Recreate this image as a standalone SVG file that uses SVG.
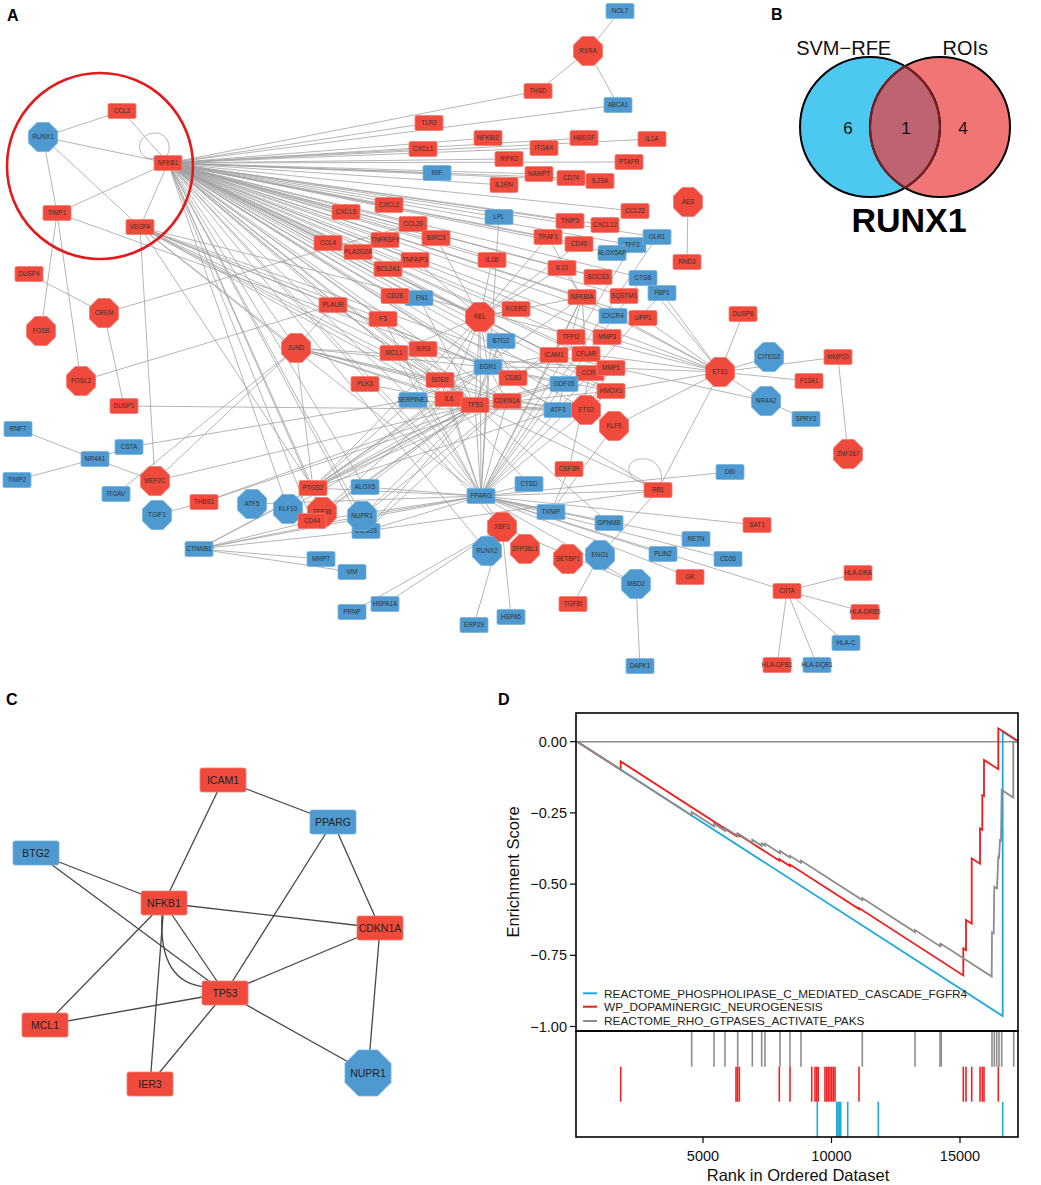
<svg xmlns="http://www.w3.org/2000/svg" xmlns:xlink="http://www.w3.org/1999/xlink" width="1041" height="1185" viewBox="0 0 1041 1185">
<style>
.e line,.e path{stroke:#a2a2a2;stroke-width:.8;fill:none}
.R{fill:#EF4A3B;stroke:#F47D71;stroke-width:.8}
.B{fill:#4E99CF;stroke:#76B3DE;stroke-width:.8}
.t{font-family:"Liberation Sans",Arial,sans-serif;font-size:6.3px;fill:#333;text-anchor:middle}
.ct{font-family:"Liberation Sans",Arial,sans-serif;font-size:10.5px;fill:#222;text-anchor:middle}
.ce line,.ce path{stroke:#474747;stroke-width:1.3;fill:none}
.lbl{font-family:"Liberation Sans",Arial,sans-serif;font-weight:bold;font-size:16px;fill:#000}
.ax{font-family:"Liberation Sans",Arial,sans-serif;font-size:14.5px;fill:#111}
.ttl{font-family:"Liberation Sans",Arial,sans-serif;font-size:16.5px;fill:#111;text-anchor:middle}
.lg{font-family:"Liberation Sans",Arial,sans-serif;font-size:11.8px;fill:#222}
.gt line{stroke:#8c8c8c;stroke-width:1.6}
.rt line{stroke:#EE2222;stroke-width:1.6}
.bt line{stroke:#1FA8E0;stroke-width:1.6}
</style>
<defs>
<rect id="bx" x="-14" y="-7.5" width="28" height="15" rx="1.5"/>
<polygon id="oc" points="-6,-14.5 6,-14.5 14.5,-6 14.5,6 6,14.5 -6,14.5 -14.5,6 -14.5,-6"/>
<rect id="cbx" x="-23" y="-12" width="46" height="24" rx="2"/>
<polygon id="coc" points="-9.5,-23 9.5,-23 23,-9.5 23,9.5 9.5,23 -9.5,23 -23,9.5 -23,-9.5"/>
</defs>
<rect width="1041" height="1185" fill="#fff"/>

<!-- Panel labels -->
<text class="lbl" x="7" y="21">A</text>
<text class="lbl" x="771" y="20">B</text>
<text class="lbl" x="6" y="705">C</text>
<text class="lbl" x="498" y="705">D</text>

<!-- Panel A connectors -->
<g id="edges-A" class="e">
<path d="M160,157 C135,166 133,134 154,133 C168,132 173,148 166,157"/>
<path d="M655,483 C628,487 620,462 640,459 C655,457 664,470 661,483"/>
<line x1="168" y1="163" x2="122" y2="111"/><line x1="168" y1="163" x2="43" y2="137"/><line x1="168" y1="163" x2="57" y2="213"/><line x1="168" y1="163" x2="140" y2="227"/>
<line x1="168" y1="163" x2="538" y2="91"/><line x1="168" y1="163" x2="618" y2="105"/><line x1="168" y1="163" x2="429" y2="123"/><line x1="168" y1="163" x2="423" y2="149"/>
<line x1="168" y1="163" x2="488" y2="138"/><line x1="168" y1="163" x2="544" y2="148"/><line x1="168" y1="163" x2="584" y2="138"/><line x1="168" y1="163" x2="652" y2="139"/>
<line x1="168" y1="163" x2="509" y2="159"/><line x1="168" y1="163" x2="629" y2="162"/><line x1="168" y1="163" x2="437" y2="173"/><line x1="168" y1="163" x2="539" y2="174"/>
<line x1="168" y1="163" x2="571" y2="178"/><line x1="168" y1="163" x2="600" y2="181"/><line x1="168" y1="163" x2="504" y2="185"/><line x1="168" y1="163" x2="635" y2="211"/>
<line x1="168" y1="163" x2="346" y2="212"/><line x1="168" y1="163" x2="389" y2="205"/><line x1="168" y1="163" x2="499" y2="217"/><line x1="168" y1="163" x2="413" y2="224"/>
<line x1="168" y1="163" x2="570" y2="221"/><line x1="168" y1="163" x2="605" y2="225"/><line x1="168" y1="163" x2="548" y2="237"/><line x1="168" y1="163" x2="579" y2="244"/>
<line x1="168" y1="163" x2="632" y2="245"/><line x1="168" y1="163" x2="657" y2="237"/><line x1="168" y1="163" x2="612" y2="253"/><line x1="168" y1="163" x2="328" y2="243"/>
<line x1="168" y1="163" x2="385" y2="240"/><line x1="168" y1="163" x2="436" y2="238"/><line x1="168" y1="163" x2="358" y2="252"/><line x1="168" y1="163" x2="415" y2="260"/>
<line x1="168" y1="163" x2="388" y2="269"/><line x1="168" y1="163" x2="492" y2="260"/><line x1="168" y1="163" x2="562" y2="268"/><line x1="168" y1="163" x2="598" y2="277"/>
<line x1="168" y1="163" x2="643" y2="278"/><line x1="168" y1="163" x2="582" y2="297"/><line x1="168" y1="163" x2="624" y2="296"/><line x1="168" y1="163" x2="395" y2="296"/>
<line x1="168" y1="163" x2="419" y2="298"/><line x1="168" y1="163" x2="480" y2="317"/><line x1="168" y1="163" x2="516" y2="309"/><line x1="168" y1="163" x2="643" y2="318"/>
<line x1="168" y1="163" x2="613" y2="316"/><line x1="168" y1="163" x2="383" y2="319"/><line x1="168" y1="163" x2="333" y2="305"/><line x1="168" y1="163" x2="501" y2="341"/>
<line x1="168" y1="163" x2="571" y2="337"/><line x1="168" y1="163" x2="607" y2="337"/><line x1="168" y1="163" x2="394" y2="353"/><line x1="168" y1="163" x2="423" y2="349"/>
<line x1="168" y1="163" x2="554" y2="355"/><line x1="168" y1="163" x2="586" y2="354"/><line x1="168" y1="163" x2="488" y2="367"/><line x1="168" y1="163" x2="590" y2="373"/>
<line x1="168" y1="163" x2="611" y2="368"/><line x1="168" y1="163" x2="440" y2="380"/><line x1="168" y1="163" x2="513" y2="378"/><line x1="168" y1="163" x2="611" y2="391"/>
<line x1="168" y1="163" x2="449" y2="399"/><line x1="168" y1="163" x2="475" y2="405"/><line x1="168" y1="163" x2="507" y2="401"/><line x1="168" y1="163" x2="413" y2="400"/>
<line x1="168" y1="163" x2="296" y2="348"/><line x1="168" y1="163" x2="313" y2="488"/><line x1="168" y1="163" x2="312" y2="521"/><line x1="168" y1="163" x2="322" y2="512"/>
<line x1="168" y1="163" x2="288" y2="509"/><line x1="168" y1="163" x2="362" y2="516"/><line x1="168" y1="163" x2="366" y2="531"/><line x1="168" y1="163" x2="365" y2="487"/>
<line x1="168" y1="163" x2="481" y2="496"/><line x1="168" y1="163" x2="502" y2="527"/><line x1="168" y1="163" x2="487" y2="551"/><line x1="168" y1="163" x2="720" y2="372"/>
<line x1="168" y1="163" x2="586" y2="410"/><line x1="168" y1="163" x2="558" y2="410"/><line x1="168" y1="163" x2="564" y2="384"/>
<line x1="43" y1="137" x2="122" y2="111"/><line x1="43" y1="137" x2="57" y2="213"/><line x1="43" y1="137" x2="140" y2="227"/>
<line x1="57" y1="213" x2="41" y2="331"/><line x1="57" y1="213" x2="81" y2="381"/><line x1="57" y1="213" x2="488" y2="367"/>
<line x1="140" y1="227" x2="155" y2="481"/><line x1="140" y1="227" x2="333" y2="305"/><line x1="140" y1="227" x2="296" y2="348"/><line x1="140" y1="227" x2="383" y2="319"/>
<line x1="140" y1="227" x2="440" y2="380"/><line x1="140" y1="227" x2="449" y2="399"/><line x1="140" y1="227" x2="475" y2="405"/><line x1="140" y1="227" x2="481" y2="496"/>
<line x1="140" y1="227" x2="488" y2="367"/><line x1="140" y1="227" x2="720" y2="372"/><line x1="140" y1="227" x2="611" y2="391"/><line x1="140" y1="227" x2="507" y2="401"/>
<line x1="140" y1="227" x2="313" y2="488"/>
<line x1="588" y1="51" x2="620" y2="11"/><line x1="588" y1="51" x2="538" y2="91"/><line x1="588" y1="51" x2="618" y2="105"/>
<line x1="688" y1="202" x2="687" y2="262"/>
<line x1="29" y1="274" x2="104" y2="313"/><line x1="104" y1="313" x2="124" y2="406"/><line x1="104" y1="313" x2="413" y2="224"/>
<line x1="81" y1="381" x2="333" y2="305"/><line x1="124" y1="406" x2="558" y2="410"/>
<line x1="95" y1="459" x2="18" y2="429"/><line x1="95" y1="459" x2="17" y2="480"/><line x1="95" y1="459" x2="129" y2="447"/><line x1="95" y1="459" x2="155" y2="481"/>
<line x1="129" y1="447" x2="413" y2="400"/><line x1="116" y1="494" x2="296" y2="348"/><line x1="155" y1="481" x2="296" y2="348"/><line x1="155" y1="481" x2="475" y2="405"/>
<line x1="157" y1="515" x2="204" y2="502"/><line x1="204" y1="502" x2="475" y2="405"/><line x1="204" y1="502" x2="507" y2="401"/>
<line x1="296" y1="348" x2="333" y2="305"/><line x1="296" y1="348" x2="313" y2="488"/><line x1="296" y1="348" x2="449" y2="399"/><line x1="296" y1="348" x2="475" y2="405"/>
<line x1="296" y1="348" x2="558" y2="410"/><line x1="296" y1="348" x2="488" y2="367"/><line x1="296" y1="348" x2="440" y2="380"/><line x1="296" y1="348" x2="507" y2="401"/>
<line x1="296" y1="348" x2="611" y2="368"/><line x1="333" y1="305" x2="488" y2="367"/><line x1="333" y1="305" x2="475" y2="405"/>
<line x1="199" y1="549" x2="321" y2="559"/><line x1="199" y1="549" x2="352" y2="572"/><line x1="199" y1="549" x2="366" y2="531"/><line x1="199" y1="549" x2="362" y2="516"/>
<line x1="199" y1="549" x2="481" y2="496"/><line x1="199" y1="549" x2="313" y2="488"/><line x1="199" y1="549" x2="312" y2="521"/><line x1="199" y1="549" x2="475" y2="405"/>
<line x1="252" y1="504" x2="481" y2="496"/><line x1="288" y1="509" x2="475" y2="405"/><line x1="288" y1="509" x2="413" y2="400"/>
<line x1="313" y1="488" x2="481" y2="496"/><line x1="313" y1="488" x2="475" y2="405"/><line x1="313" y1="488" x2="449" y2="399"/><line x1="313" y1="488" x2="488" y2="367"/>
<line x1="313" y1="488" x2="480" y2="317"/><line x1="313" y1="488" x2="558" y2="410"/><line x1="313" y1="488" x2="507" y2="401"/><line x1="313" y1="488" x2="582" y2="297"/>
<line x1="313" y1="488" x2="554" y2="355"/>
<line x1="312" y1="521" x2="475" y2="405"/><line x1="312" y1="521" x2="481" y2="496"/><line x1="322" y1="512" x2="449" y2="399"/><line x1="322" y1="512" x2="475" y2="405"/>
<line x1="365" y1="487" x2="481" y2="496"/><line x1="365" y1="487" x2="475" y2="405"/><line x1="362" y1="516" x2="475" y2="405"/><line x1="362" y1="516" x2="507" y2="401"/>
<line x1="362" y1="516" x2="481" y2="496"/><line x1="366" y1="531" x2="481" y2="496"/><line x1="366" y1="531" x2="658" y2="490"/><line x1="366" y1="531" x2="507" y2="401"/>
<line x1="366" y1="531" x2="475" y2="405"/>
<line x1="481" y1="496" x2="529" y2="484"/><line x1="481" y1="496" x2="551" y2="512"/><line x1="481" y1="496" x2="609" y2="523"/><line x1="481" y1="496" x2="663" y2="554"/>
<line x1="481" y1="496" x2="728" y2="559"/><line x1="481" y1="496" x2="696" y2="539"/><line x1="481" y1="496" x2="757" y2="525"/><line x1="481" y1="496" x2="730" y2="472"/>
<line x1="481" y1="496" x2="787" y2="591"/><line x1="481" y1="496" x2="690" y2="577"/><line x1="481" y1="496" x2="502" y2="527"/><line x1="481" y1="496" x2="658" y2="490"/>
<line x1="481" y1="496" x2="636" y2="584"/><line x1="481" y1="496" x2="475" y2="405"/><line x1="481" y1="496" x2="449" y2="399"/><line x1="481" y1="496" x2="440" y2="380"/>
<line x1="481" y1="496" x2="488" y2="367"/><line x1="481" y1="496" x2="480" y2="317"/><line x1="481" y1="496" x2="507" y2="401"/><line x1="481" y1="496" x2="554" y2="355"/>
<line x1="481" y1="496" x2="662" y2="293"/><line x1="481" y1="496" x2="499" y2="217"/><line x1="481" y1="496" x2="643" y2="278"/><line x1="481" y1="496" x2="657" y2="237"/>
<line x1="481" y1="496" x2="611" y2="368"/><line x1="481" y1="496" x2="611" y2="391"/><line x1="481" y1="496" x2="413" y2="400"/><line x1="481" y1="496" x2="394" y2="353"/>
<line x1="481" y1="496" x2="383" y2="319"/><line x1="481" y1="496" x2="582" y2="297"/><line x1="481" y1="496" x2="632" y2="245"/>
<line x1="658" y1="490" x2="600" y2="555"/><line x1="658" y1="490" x2="475" y2="405"/><line x1="658" y1="490" x2="507" y2="401"/><line x1="658" y1="490" x2="720" y2="372"/>
<line x1="600" y1="555" x2="573" y2="604"/><line x1="502" y1="527" x2="636" y2="584"/><line x1="502" y1="527" x2="474" y2="625"/><line x1="502" y1="527" x2="511" y2="617"/>
<line x1="502" y1="527" x2="385" y2="604"/><line x1="502" y1="527" x2="352" y2="612"/><line x1="636" y1="584" x2="640" y2="666"/>
<line x1="609" y1="523" x2="475" y2="405"/><line x1="529" y1="484" x2="449" y2="399"/><line x1="551" y1="512" x2="614" y2="426"/><line x1="569" y1="469" x2="590" y2="373"/>
<line x1="569" y1="469" x2="551" y2="512"/>
<line x1="787" y1="591" x2="858" y2="573"/><line x1="787" y1="591" x2="865" y2="612"/><line x1="787" y1="591" x2="846" y2="643"/><line x1="787" y1="591" x2="777" y2="665"/>
<line x1="787" y1="591" x2="817" y2="665"/>
<line x1="720" y1="372" x2="743" y2="314"/><line x1="720" y1="372" x2="769" y2="357"/><line x1="720" y1="372" x2="838" y2="357"/><line x1="720" y1="372" x2="809" y2="381"/>
<line x1="720" y1="372" x2="766" y2="401"/><line x1="720" y1="372" x2="662" y2="293"/><line x1="720" y1="372" x2="643" y2="318"/><line x1="720" y1="372" x2="613" y2="316"/>
<line x1="720" y1="372" x2="607" y2="337"/><line x1="720" y1="372" x2="586" y2="354"/><line x1="720" y1="372" x2="611" y2="368"/><line x1="720" y1="372" x2="611" y2="391"/>
<line x1="720" y1="372" x2="614" y2="426"/><line x1="720" y1="372" x2="582" y2="297"/><line x1="720" y1="372" x2="643" y2="278"/>
<line x1="766" y1="401" x2="806" y2="419"/><line x1="554" y1="355" x2="766" y2="401"/><line x1="838" y1="357" x2="848" y2="454"/>
<line x1="480" y1="317" x2="436" y2="238"/><line x1="480" y1="317" x2="415" y2="260"/><line x1="480" y1="317" x2="582" y2="297"/><line x1="480" y1="317" x2="388" y2="269"/>
<line x1="480" y1="317" x2="562" y2="268"/><line x1="480" y1="317" x2="492" y2="260"/><line x1="480" y1="317" x2="488" y2="367"/><line x1="480" y1="317" x2="449" y2="399"/>
<line x1="480" y1="317" x2="475" y2="405"/><line x1="480" y1="317" x2="440" y2="380"/><line x1="480" y1="317" x2="554" y2="355"/><line x1="480" y1="317" x2="513" y2="378"/>
<line x1="480" y1="317" x2="516" y2="309"/><line x1="480" y1="317" x2="394" y2="353"/><line x1="480" y1="317" x2="548" y2="237"/><line x1="480" y1="317" x2="579" y2="244"/>
<line x1="488" y1="367" x2="475" y2="405"/><line x1="488" y1="367" x2="449" y2="399"/><line x1="488" y1="367" x2="440" y2="380"/><line x1="488" y1="367" x2="507" y2="401"/>
<line x1="488" y1="367" x2="558" y2="410"/><line x1="488" y1="367" x2="501" y2="341"/><line x1="488" y1="367" x2="564" y2="384"/><line x1="488" y1="367" x2="554" y2="355"/>
<line x1="488" y1="367" x2="413" y2="400"/><line x1="488" y1="367" x2="513" y2="378"/><line x1="488" y1="367" x2="611" y2="391"/><line x1="488" y1="367" x2="611" y2="368"/>
<line x1="475" y1="405" x2="507" y2="401"/><line x1="475" y1="405" x2="501" y2="341"/><line x1="475" y1="405" x2="440" y2="380"/><line x1="475" y1="405" x2="449" y2="399"/>
<line x1="475" y1="405" x2="394" y2="353"/><line x1="475" y1="405" x2="423" y2="349"/><line x1="475" y1="405" x2="564" y2="384"/><line x1="475" y1="405" x2="558" y2="410"/>
<line x1="475" y1="405" x2="413" y2="400"/><line x1="475" y1="405" x2="571" y2="337"/><line x1="475" y1="405" x2="611" y2="368"/><line x1="475" y1="405" x2="586" y2="410"/>
<line x1="475" y1="405" x2="611" y2="391"/><line x1="475" y1="405" x2="365" y2="384"/><line x1="475" y1="405" x2="383" y2="319"/><line x1="475" y1="405" x2="419" y2="298"/>
<line x1="582" y1="297" x2="548" y2="237"/><line x1="582" y1="297" x2="554" y2="355"/><line x1="582" y1="297" x2="571" y2="337"/><line x1="582" y1="297" x2="586" y2="354"/>
<line x1="582" y1="297" x2="562" y2="268"/><line x1="562" y1="268" x2="598" y2="277"/>
<line x1="558" y1="410" x2="564" y2="384"/><line x1="507" y1="401" x2="564" y2="384"/><line x1="507" y1="401" x2="586" y2="410"/><line x1="586" y1="410" x2="611" y2="368"/>
<line x1="586" y1="410" x2="611" y2="391"/>
</g>

<!-- red highlight circle -->
<circle cx="100" cy="166" r="93" fill="none" stroke="#E31A1C" stroke-width="2.6"/>

<!-- Panel A nodes -->
<g id="n-NFKB1"><use href="#bx" class="R" x="168" y="163"/><text class="t" x="168" y="165.2">NFKB1</text></g>
<g id="n-CCL3"><use href="#bx" class="R" x="122" y="111"/><text class="t" x="122" y="113.2">CCL3</text></g>
<g id="n-RUNX1"><use href="#oc" class="B" x="43" y="137"/><text class="t" x="43" y="139.2">RUNX1</text></g>
<g id="n-TIMP1"><use href="#bx" class="R" x="57" y="213"/><text class="t" x="57" y="215.2">TIMP1</text></g>
<g id="n-VEGFA"><use href="#bx" class="R" x="140" y="227"/><text class="t" x="140" y="229.2">VEGFA</text></g>
<g id="n-NOL7"><use href="#bx" class="B" x="620" y="11"/><text class="t" x="620" y="13.2">NOL7</text></g>
<g id="n-RXRA"><use href="#oc" class="R" x="588" y="51"/><text class="t" x="588" y="53.2">RXRA</text></g>
<g id="n-THSD"><use href="#bx" class="R" x="538" y="91"/><text class="t" x="538" y="93.2">THSD</text></g>
<g id="n-ABCA1"><use href="#bx" class="B" x="618" y="105"/><text class="t" x="618" y="107.2">ABCA1</text></g>
<g id="n-TLR2"><use href="#bx" class="R" x="429" y="123"/><text class="t" x="429" y="125.2">TLR2</text></g>
<g id="n-NFKBIZ"><use href="#bx" class="R" x="488" y="138"/><text class="t" x="488" y="140.2">NFKBIZ</text></g>
<g id="n-HBEGF"><use href="#bx" class="R" x="584" y="138"/><text class="t" x="584" y="140.2">HBEGF</text></g>
<g id="n-IL1A"><use href="#bx" class="R" x="652" y="139"/><text class="t" x="652" y="141.2">IL1A</text></g>
<g id="n-CXCL1"><use href="#bx" class="R" x="423" y="149"/><text class="t" x="423" y="151.2">CXCL1</text></g>
<g id="n-ITGAX"><use href="#bx" class="R" x="544" y="148"/><text class="t" x="544" y="150.2">ITGAX</text></g>
<g id="n-RIPK2"><use href="#bx" class="R" x="509" y="159"/><text class="t" x="509" y="161.2">RIPK2</text></g>
<g id="n-PTAFR"><use href="#bx" class="R" x="629" y="162"/><text class="t" x="629" y="164.2">PTAFR</text></g>
<g id="n-MIF"><use href="#bx" class="B" x="437" y="173"/><text class="t" x="437" y="175.2">MIF</text></g>
<g id="n-NAMPT"><use href="#bx" class="R" x="539" y="174"/><text class="t" x="539" y="176.2">NAMPT</text></g>
<g id="n-CD74"><use href="#bx" class="R" x="571" y="178"/><text class="t" x="571" y="180.2">CD74</text></g>
<g id="n-IL23A"><use href="#bx" class="R" x="600" y="181"/><text class="t" x="600" y="183.2">IL23A</text></g>
<g id="n-IL1RN"><use href="#bx" class="R" x="504" y="185"/><text class="t" x="504" y="187.2">IL1RN</text></g>
<g id="n-CCL22"><use href="#bx" class="R" x="635" y="211"/><text class="t" x="635" y="213.2">CCL22</text></g>
<g id="n-AES"><use href="#oc" class="R" x="688" y="202"/><text class="t" x="688" y="204.2">AES</text></g>
<g id="n-CXCL5"><use href="#bx" class="R" x="346" y="212"/><text class="t" x="346" y="214.2">CXCL5</text></g>
<g id="n-CXCL2"><use href="#bx" class="R" x="389" y="205"/><text class="t" x="389" y="207.2">CXCL2</text></g>
<g id="n-LPL"><use href="#bx" class="B" x="499" y="217"/><text class="t" x="499" y="219.2">LPL</text></g>
<g id="n-CCL20"><use href="#bx" class="R" x="413" y="224"/><text class="t" x="413" y="226.2">CCL20</text></g>
<g id="n-TNIP3"><use href="#bx" class="R" x="570" y="221"/><text class="t" x="570" y="223.2">TNIP3</text></g>
<g id="n-CXCL12"><use href="#bx" class="R" x="605" y="225"/><text class="t" x="605" y="227.2">CXCL12</text></g>
<g id="n-TRAF1"><use href="#bx" class="R" x="548" y="237"/><text class="t" x="548" y="239.2">TRAF1</text></g>
<g id="n-CD40"><use href="#bx" class="R" x="579" y="244"/><text class="t" x="579" y="246.2">CD40</text></g>
<g id="n-TFF3"><use href="#bx" class="B" x="632" y="245"/><text class="t" x="632" y="247.2">TFF3</text></g>
<g id="n-OLR1"><use href="#bx" class="B" x="657" y="237"/><text class="t" x="657" y="239.2">OLR1</text></g>
<g id="n-ALOX5AP"><use href="#bx" class="B" x="612" y="253"/><text class="t" x="612" y="255.2">ALOX5AP</text></g>
<g id="n-RND3"><use href="#bx" class="R" x="687" y="262"/><text class="t" x="687" y="264.2">RND3</text></g>
<g id="n-CCL4"><use href="#bx" class="R" x="328" y="243"/><text class="t" x="328" y="245.2">CCL4</text></g>
<g id="n-TNFRSF9"><use href="#bx" class="R" x="385" y="240"/><text class="t" x="385" y="242.2">TNFRSF9</text></g>
<g id="n-BIRC3"><use href="#bx" class="R" x="436" y="238"/><text class="t" x="436" y="240.2">BIRC3</text></g>
<g id="n-PLA2G2A"><use href="#bx" class="R" x="358" y="252"/><text class="t" x="358" y="254.2">PLA2G2A</text></g>
<g id="n-TNFAIP3"><use href="#bx" class="R" x="415" y="260"/><text class="t" x="415" y="262.2">TNFAIP3</text></g>
<g id="n-BCL2A1"><use href="#bx" class="R" x="388" y="269"/><text class="t" x="388" y="271.2">BCL2A1</text></g>
<g id="n-IL1B"><use href="#bx" class="R" x="492" y="260"/><text class="t" x="492" y="262.2">IL1B</text></g>
<g id="n-IL10"><use href="#bx" class="R" x="562" y="268"/><text class="t" x="562" y="270.2">IL10</text></g>
<g id="n-SOCS3"><use href="#bx" class="R" x="598" y="277"/><text class="t" x="598" y="279.2">SOCS3</text></g>
<g id="n-CTSB"><use href="#bx" class="B" x="643" y="278"/><text class="t" x="643" y="280.2">CTSB</text></g>
<g id="n-FBP1"><use href="#bx" class="B" x="662" y="293"/><text class="t" x="662" y="295.2">FBP1</text></g>
<g id="n-SQSTM1"><use href="#bx" class="R" x="624" y="296"/><text class="t" x="624" y="298.2">SQSTM1</text></g>
<g id="n-NFKBIA"><use href="#bx" class="R" x="582" y="297"/><text class="t" x="582" y="299.2">NFKBIA</text></g>
<g id="n-FN1"><use href="#bx" class="B" x="419" y="298"/><text class="t" x="422" y="300.2">FN1</text></g>
<g id="n-CD28"><use href="#bx" class="R" x="395" y="296"/><text class="t" x="395" y="298.2">CD28</text></g>
<g id="n-REL"><use href="#oc" class="R" x="480" y="317"/><text class="t" x="480" y="319.2">REL</text></g>
<g id="n-FCER2"><use href="#bx" class="R" x="516" y="309"/><text class="t" x="516" y="311.2">FCER2</text></g>
<g id="n-CXCR4"><use href="#bx" class="B" x="613" y="316"/><text class="t" x="613" y="318.2">CXCR4</text></g>
<g id="n-UPP1"><use href="#bx" class="R" x="643" y="318"/><text class="t" x="643" y="320.2">UPP1</text></g>
<g id="n-F3"><use href="#bx" class="R" x="383" y="319"/><text class="t" x="383" y="321.2">F3</text></g>
<g id="n-PLAUR"><use href="#bx" class="R" x="333" y="305"/><text class="t" x="333" y="307.2">PLAUR</text></g>
<g id="n-BTG2"><use href="#bx" class="B" x="501" y="341"/><text class="t" x="501" y="343.2">BTG2</text></g>
<g id="n-TFPI2"><use href="#bx" class="R" x="571" y="337"/><text class="t" x="571" y="339.2">TFPI2</text></g>
<g id="n-MMP3"><use href="#bx" class="R" x="607" y="337"/><text class="t" x="607" y="339.2">MMP3</text></g>
<g id="n-MCL1"><use href="#bx" class="R" x="394" y="353"/><text class="t" x="394" y="355.2">MCL1</text></g>
<g id="n-IER3"><use href="#bx" class="R" x="423" y="349"/><text class="t" x="423" y="351.2">IER3</text></g>
<g id="n-ICAM1"><use href="#bx" class="R" x="554" y="355"/><text class="t" x="554" y="357.2">ICAM1</text></g>
<g id="n-CFLAR"><use href="#bx" class="R" x="586" y="354"/><text class="t" x="586" y="356.2">CFLAR</text></g>
<g id="n-EGR1"><use href="#bx" class="B" x="488" y="367"/><text class="t" x="488" y="369.2">EGR1</text></g>
<g id="n-CCR7"><use href="#bx" class="R" x="590" y="373"/><text class="t" x="590" y="375.2">CCR7</text></g>
<g id="n-MMP1"><use href="#bx" class="R" x="611" y="368"/><text class="t" x="611" y="370.2">MMP1</text></g>
<g id="n-PLK3"><use href="#bx" class="R" x="365" y="384"/><text class="t" x="365" y="386.2">PLK3</text></g>
<g id="n-SOD2"><use href="#bx" class="R" x="440" y="380"/><text class="t" x="440" y="382.2">SOD2</text></g>
<g id="n-CD83"><use href="#bx" class="R" x="513" y="378"/><text class="t" x="513" y="380.2">CD83</text></g>
<g id="n-GDF15"><use href="#bx" class="B" x="564" y="384"/><text class="t" x="564" y="386.2">GDF15</text></g>
<g id="n-HMOX1"><use href="#bx" class="R" x="611" y="391"/><text class="t" x="611" y="393.2">HMOX1</text></g>
<g id="n-SERPINE1"><use href="#bx" class="B" x="413" y="400"/><text class="t" x="413" y="402.2">SERPINE1</text></g>
<g id="n-IL6"><use href="#bx" class="R" x="449" y="399"/><text class="t" x="449" y="401.2">IL6</text></g>
<g id="n-TP53"><use href="#bx" class="R" x="475" y="405"/><text class="t" x="475" y="407.2">TP53</text></g>
<g id="n-CDKN1A"><use href="#bx" class="R" x="507" y="401"/><text class="t" x="507" y="403.2">CDKN1A</text></g>
<g id="n-ATF3"><use href="#bx" class="B" x="558" y="410"/><text class="t" x="558" y="412.2">ATF3</text></g>
<g id="n-ETS2"><use href="#oc" class="R" x="586" y="410"/><text class="t" x="586" y="412.2">ETS2</text></g>
<g id="n-KLF6"><use href="#oc" class="R" x="614" y="426"/><text class="t" x="614" y="428.2">KLF6</text></g>
<g id="n-DUSP6"><use href="#bx" class="R" x="743" y="314"/><text class="t" x="743" y="316.2">DUSP6</text></g>
<g id="n-ETS1"><use href="#oc" class="R" x="720" y="372"/><text class="t" x="720" y="374.2">ETS1</text></g>
<g id="n-CITED2"><use href="#oc" class="B" x="769" y="357"/><text class="t" x="769" y="359.2">CITED2</text></g>
<g id="n-MMP10"><use href="#bx" class="R" x="838" y="357"/><text class="t" x="838" y="359.2">MMP10</text></g>
<g id="n-F13A1"><use href="#bx" class="R" x="809" y="381"/><text class="t" x="809" y="383.2">F13A1</text></g>
<g id="n-NR4A2"><use href="#oc" class="B" x="766" y="401"/><text class="t" x="766" y="403.2">NR4A2</text></g>
<g id="n-SPRY2"><use href="#bx" class="B" x="806" y="419"/><text class="t" x="806" y="421.2">SPRY2</text></g>
<g id="n-ZNF267"><use href="#oc" class="R" x="848" y="454"/><text class="t" x="848" y="456.2">ZNF267</text></g>
<g id="n-DUSP4"><use href="#bx" class="R" x="29" y="274"/><text class="t" x="29" y="276.2">DUSP4</text></g>
<g id="n-CREM"><use href="#oc" class="R" x="104" y="313"/><text class="t" x="104" y="315.2">CREM</text></g>
<g id="n-FOSB"><use href="#oc" class="R" x="41" y="331"/><text class="t" x="41" y="333.2">FOSB</text></g>
<g id="n-JUND"><use href="#oc" class="R" x="296" y="348"/><text class="t" x="296" y="350.2">JUND</text></g>
<g id="n-FOSL2"><use href="#oc" class="R" x="81" y="381"/><text class="t" x="81" y="383.2">FOSL2</text></g>
<g id="n-DUSP1"><use href="#bx" class="R" x="124" y="406"/><text class="t" x="124" y="408.2">DUSP1</text></g>
<g id="n-RNF7"><use href="#bx" class="B" x="18" y="429"/><text class="t" x="18" y="431.2">RNF7</text></g>
<g id="n-CSTA"><use href="#bx" class="B" x="129" y="447"/><text class="t" x="129" y="449.2">CSTA</text></g>
<g id="n-NR4A1"><use href="#bx" class="B" x="95" y="459"/><text class="t" x="95" y="461.2">NR4A1</text></g>
<g id="n-TIMP2"><use href="#bx" class="B" x="17" y="480"/><text class="t" x="17" y="482.2">TIMP2</text></g>
<g id="n-MEF2C"><use href="#oc" class="R" x="155" y="481"/><text class="t" x="155" y="483.2">MEF2C</text></g>
<g id="n-ITGAV"><use href="#bx" class="B" x="116" y="494"/><text class="t" x="116" y="496.2">ITGAV</text></g>
<g id="n-TGIF1"><use href="#oc" class="B" x="157" y="515"/><text class="t" x="157" y="517.2">TGIF1</text></g>
<g id="n-THBS1"><use href="#bx" class="R" x="204" y="502"/><text class="t" x="204" y="504.2">THBS1</text></g>
<g id="n-ATF5"><use href="#oc" class="B" x="252" y="504"/><text class="t" x="252" y="506.2">ATF5</text></g>
<g id="n-KLF10"><use href="#oc" class="B" x="288" y="509"/><text class="t" x="288" y="511.2">KLF10</text></g>
<g id="n-PTGS2"><use href="#bx" class="R" x="313" y="488"/><text class="t" x="313" y="490.2">PTGS2</text></g>
<g id="n-ZFP36"><use href="#oc" class="R" x="322" y="512"/><text class="t" x="322" y="514.2">ZFP36</text></g>
<g id="n-CD44"><use href="#bx" class="R" x="312" y="521"/><text class="t" x="312" y="523.2">CD44</text></g>
<g id="n-CTNNB1"><use href="#bx" class="B" x="199" y="549"/><text class="t" x="199" y="551.2">CTNNB1</text></g>
<g id="n-MMP7"><use href="#bx" class="B" x="321" y="559"/><text class="t" x="321" y="561.2">MMP7</text></g>
<g id="n-VIM"><use href="#bx" class="B" x="352" y="572"/><text class="t" x="352" y="574.2">VIM</text></g>
<g id="n-ALOX5"><use href="#bx" class="B" x="365" y="487"/><text class="t" x="365" y="489.2">ALOX5</text></g>
<g id="n-CCND3"><use href="#bx" class="B" x="366" y="531"/><text class="t" x="366" y="533.2">CCND3</text></g>
<g id="n-NUPR1"><use href="#oc" class="B" x="362" y="516"/><text class="t" x="362" y="518.2">NUPR1</text></g>
<g id="n-CSF3R"><use href="#bx" class="R" x="569" y="469"/><text class="t" x="569" y="471.2">CSF3R</text></g>
<g id="n-CTSD"><use href="#bx" class="B" x="529" y="484"/><text class="t" x="529" y="486.2">CTSD</text></g>
<g id="n-RB1"><use href="#bx" class="R" x="658" y="490"/><text class="t" x="658" y="492.2">RB1</text></g>
<g id="n-PPARG"><use href="#bx" class="B" x="481" y="496"/><text class="t" x="481" y="498.2">PPARG</text></g>
<g id="n-TXNIP"><use href="#bx" class="B" x="551" y="512"/><text class="t" x="551" y="514.2">TXNIP</text></g>
<g id="n-GPNMB"><use href="#bx" class="B" x="609" y="523"/><text class="t" x="609" y="525.2">GPNMB</text></g>
<g id="n-XBP1"><use href="#oc" class="R" x="502" y="527"/><text class="t" x="502" y="529.2">XBP1</text></g>
<g id="n-RUNX2"><use href="#oc" class="B" x="487" y="551"/><text class="t" x="487" y="553.2">RUNX2</text></g>
<g id="n-ZFP36L1"><use href="#oc" class="R" x="525" y="549"/><text class="t" x="525" y="551.2">ZFP36L1</text></g>
<g id="n-SETBP1"><use href="#oc" class="R" x="568" y="559"/><text class="t" x="568" y="561.2">SETBP1</text></g>
<g id="n-ENO1"><use href="#oc" class="B" x="600" y="555"/><text class="t" x="600" y="557.2">ENO1</text></g>
<g id="n-PLIN2"><use href="#bx" class="B" x="663" y="554"/><text class="t" x="663" y="556.2">PLIN2</text></g>
<g id="n-MBD2"><use href="#oc" class="B" x="636" y="584"/><text class="t" x="636" y="586.2">MBD2</text></g>
<g id="n-PRNP"><use href="#bx" class="B" x="352" y="612"/><text class="t" x="352" y="614.2">PRNP</text></g>
<g id="n-HSPA1A"><use href="#bx" class="B" x="385" y="604"/><text class="t" x="385" y="606.2">HSPA1A</text></g>
<g id="n-TGFBI"><use href="#bx" class="R" x="573" y="604"/><text class="t" x="573" y="606.2">TGFBI</text></g>
<g id="n-ERP29"><use href="#bx" class="B" x="474" y="625"/><text class="t" x="474" y="627.2">ERP29</text></g>
<g id="n-HSPA5"><use href="#bx" class="B" x="511" y="617"/><text class="t" x="511" y="619.2">HSPA5</text></g>
<g id="n-DAPK1"><use href="#bx" class="B" x="640" y="666"/><text class="t" x="640" y="668.2">DAPK1</text></g>
<g id="n-DBI"><use href="#bx" class="B" x="730" y="472"/><text class="t" x="730" y="474.2">DBI</text></g>
<g id="n-SAT1"><use href="#bx" class="R" x="757" y="525"/><text class="t" x="757" y="527.2">SAT1</text></g>
<g id="n-RETN"><use href="#bx" class="B" x="696" y="539"/><text class="t" x="696" y="541.2">RETN</text></g>
<g id="n-CD36"><use href="#bx" class="B" x="728" y="559"/><text class="t" x="728" y="561.2">CD36</text></g>
<g id="n-GK"><use href="#bx" class="R" x="690" y="577"/><text class="t" x="690" y="579.2">GK</text></g>
<g id="n-CIITA"><use href="#bx" class="R" x="787" y="591"/><text class="t" x="787" y="593.2">CIITA</text></g>
<g id="n-HLA-DRA"><use href="#bx" class="R" x="858" y="573"/><text class="t" x="858" y="575.2">HLA-DRA</text></g>
<g id="n-HLA-DRB5"><use href="#bx" class="R" x="865" y="612"/><text class="t" x="865" y="614.2">HLA-DRB5</text></g>
<g id="n-HLA-C"><use href="#bx" class="B" x="846" y="643"/><text class="t" x="846" y="645.2">HLA-C</text></g>
<g id="n-HLA-DPB1"><use href="#bx" class="R" x="777" y="665"/><text class="t" x="777" y="667.2">HLA-DPB1</text></g>
<g id="n-HLA-DQB1"><use href="#bx" class="B" x="817" y="665"/><text class="t" x="817" y="667.2">HLA-DQB1</text></g>

<!-- Panel B Venn -->
<g id="venn">
<circle cx="870" cy="127" r="70" fill="#4DC9F1"/>
<circle cx="940" cy="127" r="70" fill="#F27575"/>
<path d="M905,66.4 A70,70 0 0 1 905,187.6 A70,70 0 0 1 905,66.4 Z" fill="#BE6470"/>
<circle cx="870" cy="127" r="70" fill="none" stroke="#000" stroke-width="2"/>
<circle cx="940" cy="127" r="70" fill="none" stroke="#000" stroke-width="2"/>
<path d="M905,66.4 A70,70 0 0 1 905,187.6 A70,70 0 0 1 905,66.4 Z" fill="none" stroke="#7A1F24" stroke-width="2"/>
<text x="843.7" y="55" font-family="Liberation Sans, Arial, sans-serif" font-size="20" text-anchor="middle" fill="#111">SVM−RFE</text>
<text x="965.3" y="55" font-family="Liberation Sans, Arial, sans-serif" font-size="20" text-anchor="middle" fill="#111">ROIs</text>
<text x="848" y="134" font-family="Liberation Sans, Arial, sans-serif" font-size="17" text-anchor="middle" fill="#111">6</text>
<text x="906" y="134" font-family="Liberation Sans, Arial, sans-serif" font-size="17" text-anchor="middle" fill="#111">1</text>
<text x="963" y="134" font-family="Liberation Sans, Arial, sans-serif" font-size="17" text-anchor="middle" fill="#111">4</text>
<text x="909" y="232" font-family="Liberation Sans, Arial, sans-serif" font-size="34" font-weight="bold" text-anchor="middle" fill="#000">RUNX1</text>
</g>

<!-- Panel C connectors -->
<g id="edges-C" class="ce">
<line x1="223" y1="780" x2="333" y2="822"/>
<line x1="223" y1="780" x2="164" y2="903"/>
<line x1="36" y1="853" x2="164" y2="903"/>
<line x1="36" y1="853" x2="225" y2="993"/>
<line x1="333" y1="822" x2="225" y2="993"/>
<line x1="333" y1="822" x2="380" y2="928"/>
<line x1="164" y1="903" x2="380" y2="928"/>
<line x1="164" y1="903" x2="45" y2="1025"/>
<line x1="164" y1="903" x2="150" y2="1084"/>
<line x1="164" y1="903" x2="225" y2="993"/>
<path d="M162,914 Q158,984 207,987"/>
<line x1="380" y1="928" x2="225" y2="993"/>
<line x1="380" y1="928" x2="368" y2="1073"/>
<line x1="225" y1="993" x2="45" y2="1025"/>
<line x1="225" y1="993" x2="150" y2="1084"/>
<line x1="225" y1="993" x2="368" y2="1073"/>
</g>
<g id="c-ICAM1"><use href="#cbx" class="R" x="223" y="780"/><text class="ct" x="223" y="783.7">ICAM1</text></g>
<g id="c-PPARG"><use href="#cbx" class="B" x="333" y="822"/><text class="ct" x="333" y="825.7">PPARG</text></g>
<g id="c-BTG2"><use href="#cbx" class="B" x="36" y="853"/><text class="ct" x="36" y="856.7">BTG2</text></g>
<g id="c-NFKB1"><use href="#cbx" class="R" x="164" y="903"/><text class="ct" x="164" y="906.7">NFKB1</text></g>
<g id="c-CDKN1A"><use href="#cbx" class="R" x="380" y="928"/><text class="ct" x="380" y="931.7">CDKN1A</text></g>
<g id="c-TP53"><use href="#cbx" class="R" x="225" y="993"/><text class="ct" x="225" y="996.7">TP53</text></g>
<g id="c-MCL1"><use href="#cbx" class="R" x="45" y="1025"/><text class="ct" x="45" y="1028.7">MCL1</text></g>
<g id="c-IER3"><use href="#cbx" class="R" x="150" y="1084"/><text class="ct" x="150" y="1087.7">IER3</text></g>
<g id="c-NUPR1"><use href="#coc" class="B" x="368" y="1073"/><text class="ct" x="368" y="1076.7">NUPR1</text></g>

<!-- Panel D -->
<g id="gsea">
<line x1="576" y1="741.7" x2="1018" y2="741.7" stroke="#8c8c8c" stroke-width="1.5"/>
<polyline fill="none" stroke="#1FA8E0" stroke-width="1.8" points="577.3,741.7 1002.7,1016 1002.7,731.7 1018,741.6"/>
<polyline fill="none" stroke="#EE1C1C" stroke-width="1.8" points="577.3,741.7 620.7,769.7 620.7,761.4 736,835.8 736,834.8 737.3,835.6 737.3,834.6 739.3,835.9 739.3,834.9 779.3,860.7 779.3,859.2 790,866.1 790,864.6 859,909.1 859,908.1 963.3,975.4 963.3,948.3 966,950 966,920 971.7,923.7 971.7,858.3 980,863.7 980,828.3 982.3,829.8 982.3,795 984,796 984,760 998.3,769.2 998.3,728.3 1018,741"/>
<polyline fill="none" stroke="#8c8c8c" stroke-width="1.8" points="577.3,741.7 691.7,815.5 691.7,812 714,826.4 714,823.7 725,830.8 725,827.8 737.7,836 737.7,833.3 752.3,842.7 752.3,839.7 761.7,845.8 761.7,843.5 765,845.6 765,843.6 780,853.3 780,851 790,857.5 790,855.8 801,862.9 801,860.6 862.3,900.1 862.3,898.1 915,932.1 915,930.1 940,946.2 940,944.7 941,945.3 941,943.8 991.7,976.5 992,932.3 993.7,933.4 994.3,886.7 997,888.4 998.3,857 999,857.5 1000,840 1001,840.6 1001.7,790 1013.3,797.5 1013.3,741.7 1018,741.7"/>
<line x1="583" y1="993.3" x2="597" y2="993.3" stroke="#1FA8E0" stroke-width="2"/>
<line x1="583" y1="1006.7" x2="597" y2="1006.7" stroke="#EE1C1C" stroke-width="2"/>
<line x1="583" y1="1021" x2="597" y2="1021" stroke="#8c8c8c" stroke-width="2"/>
<text class="lg" x="604" y="997.5">REACTOME_PHOSPHOLIPASE_C_MEDIATED_CASCADE_FGFR4</text>
<text class="lg" x="604" y="1011">WP_DOPAMINERGIC_NEUROGENESIS</text>
<text class="lg" x="604" y="1025.3">REACTOME_RHO_GTPASES_ACTIVATE_PAKS</text>
<g class="gt">
<line x1="691.7" y1="1031.7" x2="691.7" y2="1066.7"/><line x1="714" y1="1031.7" x2="714" y2="1066.7"/><line x1="725" y1="1031.7" x2="725" y2="1066.7"/><line x1="737.7" y1="1031.7" x2="737.7" y2="1066.7"/>
<line x1="752.3" y1="1031.7" x2="752.3" y2="1066.7"/><line x1="761.7" y1="1031.7" x2="761.7" y2="1066.7"/><line x1="765" y1="1031.7" x2="765" y2="1066.7"/><line x1="780" y1="1031.7" x2="780" y2="1066.7"/>
<line x1="790" y1="1031.7" x2="790" y2="1066.7"/><line x1="801" y1="1031.7" x2="801" y2="1066.7"/><line x1="862.3" y1="1031.7" x2="862.3" y2="1066.7"/><line x1="915" y1="1031.7" x2="915" y2="1066.7"/>
<line x1="940" y1="1031.7" x2="940" y2="1066.7"/><line x1="941.3" y1="1031.7" x2="941.3" y2="1066.7"/><line x1="992" y1="1031.7" x2="992" y2="1066.7"/><line x1="994.3" y1="1031.7" x2="994.3" y2="1066.7"/>
<line x1="996.7" y1="1031.7" x2="996.7" y2="1066.7"/><line x1="999" y1="1031.7" x2="999" y2="1066.7"/><line x1="1001.7" y1="1031.7" x2="1001.7" y2="1066.7"/><line x1="1013.7" y1="1031.7" x2="1013.7" y2="1066.7"/>
</g>
<g class="rt">
<line x1="620.7" y1="1066.7" x2="620.7" y2="1101.7"/><line x1="736" y1="1066.7" x2="736" y2="1101.7"/><line x1="737.5" y1="1066.7" x2="737.5" y2="1101.7"/><line x1="739.3" y1="1066.7" x2="739.3" y2="1101.7"/>
<line x1="779.3" y1="1066.7" x2="779.3" y2="1101.7"/><line x1="790" y1="1066.7" x2="790" y2="1101.7"/><line x1="811.7" y1="1066.7" x2="811.7" y2="1101.7"/><line x1="815" y1="1066.7" x2="815" y2="1101.7"/>
<line x1="816.7" y1="1066.7" x2="816.7" y2="1101.7"/><line x1="818.2" y1="1066.7" x2="818.2" y2="1101.7"/><line x1="825" y1="1066.7" x2="825" y2="1101.7"/><line x1="826.7" y1="1066.7" x2="826.7" y2="1101.7"/>
<line x1="828.3" y1="1066.7" x2="828.3" y2="1101.7"/><line x1="830" y1="1066.7" x2="830" y2="1101.7"/><line x1="831.7" y1="1066.7" x2="831.7" y2="1101.7"/><line x1="833.3" y1="1066.7" x2="833.3" y2="1101.7"/>
<line x1="835" y1="1066.7" x2="835" y2="1101.7"/><line x1="859" y1="1066.7" x2="859" y2="1101.7"/><line x1="963.3" y1="1066.7" x2="963.3" y2="1101.7"/><line x1="966" y1="1066.7" x2="966" y2="1101.7"/>
<line x1="971.7" y1="1066.7" x2="971.7" y2="1101.7"/><line x1="980" y1="1066.7" x2="980" y2="1101.7"/><line x1="982.3" y1="1066.7" x2="982.3" y2="1101.7"/><line x1="984" y1="1066.7" x2="984" y2="1101.7"/>
<line x1="998.3" y1="1066.7" x2="998.3" y2="1101.7"/>
</g>
<g class="bt">
<line x1="817.3" y1="1101.7" x2="817.3" y2="1136.7"/><line x1="836.7" y1="1101.7" x2="836.7" y2="1136.7"/><line x1="838" y1="1101.7" x2="838" y2="1136.7"/><line x1="839.3" y1="1101.7" x2="839.3" y2="1136.7"/>
<line x1="840.7" y1="1101.7" x2="840.7" y2="1136.7"/><line x1="847.7" y1="1101.7" x2="847.7" y2="1136.7"/><line x1="878.3" y1="1101.7" x2="878.3" y2="1136.7"/><line x1="1002.7" y1="1101.7" x2="1002.7" y2="1136.7"/>
</g>
<rect x="576" y="713" width="442" height="318" fill="none" stroke="#000" stroke-width="1.6"/>
<rect x="576" y="1031" width="442" height="106" fill="none" stroke="#000" stroke-width="1.6"/>
<g stroke="#000" stroke-width="1.2">
<line x1="570" y1="741.7" x2="576" y2="741.7"/><line x1="570" y1="812.9" x2="576" y2="812.9"/><line x1="570" y1="884.1" x2="576" y2="884.1"/><line x1="570" y1="955.3" x2="576" y2="955.3"/><line x1="570" y1="1026.5" x2="576" y2="1026.5"/>
<line x1="703" y1="1137" x2="703" y2="1143"/><line x1="831.5" y1="1137" x2="831.5" y2="1143"/><line x1="960" y1="1137" x2="960" y2="1143"/>
</g>
<g class="ax" text-anchor="end">
<text x="567" y="746.7">0.00</text>
<text x="567" y="817.9">−0.25</text>
<text x="567" y="889.1">−0.50</text>
<text x="567" y="960.3">−0.75</text>
<text x="567" y="1031.5">−1.00</text>
</g>
<g class="ax" text-anchor="middle">
<text x="703" y="1161">5000</text>
<text x="831.5" y="1161">10000</text>
<text x="960" y="1161">15000</text>
</g>
<text class="ttl" transform="translate(519,872) rotate(-90)" font-size="17">Enrichment Score</text>
<text class="ttl" x="798" y="1181">Rank in Ordered Dataset</text>
</g>
</svg>
